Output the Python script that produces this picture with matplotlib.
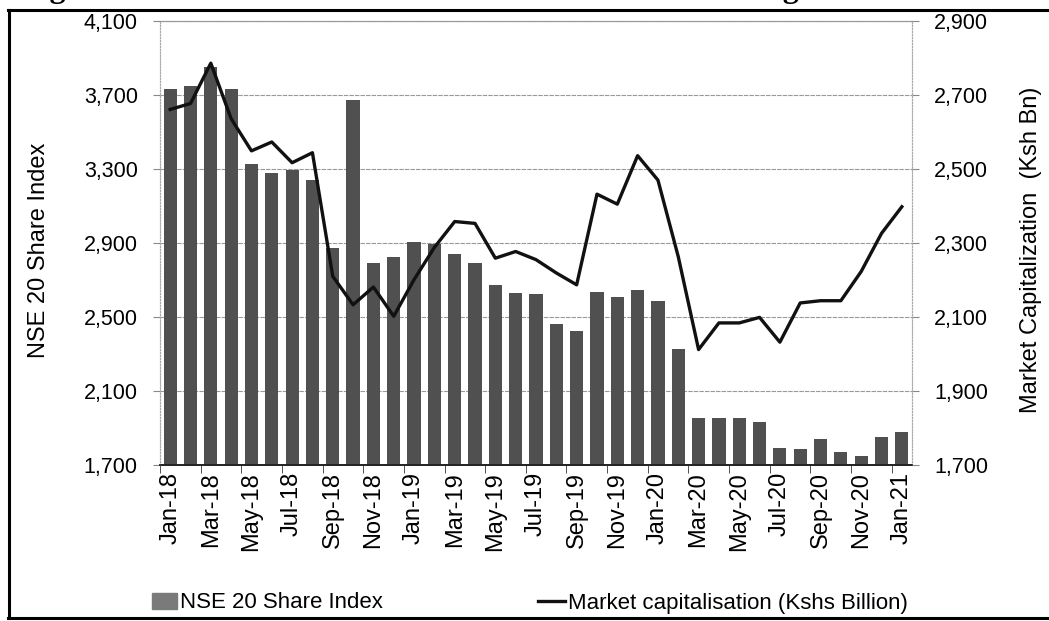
import matplotlib
matplotlib.use("Agg")
import matplotlib.pyplot as plt
import numpy as np
from matplotlib.lines import Line2D
from matplotlib.patches import Patch
from matplotlib.ticker import FuncFormatter, FixedLocator

plt.rcParams['font.family'] = ['Liberation Sans', 'DejaVu Sans']

# monthly data, Jan-18 .. Jan-21
months = ['Jan-18', 'Feb-18', 'Mar-18', 'Apr-18', 'May-18', 'Jun-18', 'Jul-18', 'Aug-18',
          'Sep-18', 'Oct-18', 'Nov-18', 'Dec-18', 'Jan-19', 'Feb-19', 'Mar-19', 'Apr-19',
          'May-19', 'Jun-19', 'Jul-19', 'Aug-19', 'Sep-19', 'Oct-19', 'Nov-19', 'Dec-19',
          'Jan-20', 'Feb-20', 'Mar-20', 'Apr-20', 'May-20', 'Jun-20', 'Jul-20', 'Aug-20',
          'Sep-20', 'Oct-20', 'Nov-20', 'Dec-20', 'Jan-21']
nse20 = [3732, 3747, 3852, 3733, 3327, 3281, 3296, 3238,
         2872, 3675, 2791, 2827, 2903, 2896, 2841, 2791,
         2672, 2629, 2624, 2461, 2423, 2634, 2609, 2645,
         2589, 2326, 1956, 1956, 1956, 1931, 1792, 1787,
         1841, 1772, 1747, 1851, 1877]
mcap = [2661, 2677, 2786, 2636, 2549, 2573, 2517, 2544,
        2210, 2133, 2181, 2102, 2201, 2288, 2358, 2353,
        2259, 2277, 2255, 2219, 2187, 2432, 2405, 2536,
        2470, 2263, 2012, 2084, 2084, 2099, 2032, 2138,
        2144, 2144, 2223, 2326, 2398]

x = np.arange(len(months))

fig = plt.figure(figsize=(10.49, 6.21), dpi=100)
ax = fig.add_axes([160/1049, 156/621, 752/1049, 444/621])
ax2 = ax.twinx()

ax.bar(x, nse20, width=0.65, color='#505050', zorder=2)
ax2.plot(x, mcap, color='#111111', lw=2.4, zorder=3)

ax.set_xlim(-0.5, len(months) - 0.5)
ax.set_ylim(1700, 4100)
ax2.set_ylim(1700, 2900)
ax.set_yticks(np.arange(1700, 4101, 400))
ax2.set_yticks(np.arange(1700, 2901, 200))
fmt = FuncFormatter(lambda v, p: '{:,.0f}'.format(v))
ax.yaxis.set_major_formatter(fmt)
ax2.yaxis.set_major_formatter(fmt)

ax.set_xticks(x[::2])
ax.set_xticklabels(months[::2], rotation=90, fontsize=17)
ax.tick_params(axis='x', length=0, pad=5)
ax.xaxis.set_minor_locator(FixedLocator(np.arange(-0.5, len(months), 2)))
ax.tick_params(axis='x', which='minor', length=6, color='#333333')
ax.tick_params(axis='y', labelsize=15.5, length=5, color='#888888', pad=11)
ax2.tick_params(axis='y', labelsize=15.5, length=5, color='#888888', pad=11)

ax.yaxis.grid(True, color='#999999', lw=0.8, ls=(0, (4, 1)), zorder=0)
ax.set_axisbelow(True)
for a in (ax, ax2):
    a.spines['left'].set_color('#aaaaaa')
    a.spines['left'].set_linestyle(':')
    a.spines['right'].set_color('#aaaaaa')
    a.spines['right'].set_linestyle(':')
    a.spines['top'].set_color('#999999')
    a.spines['bottom'].set_color('#222222')
    a.spines['bottom'].set_linewidth(1.2)

ax.set_ylabel('NSE 20 Share Index', fontsize=17)
ax.yaxis.set_label_coords(-0.146, 0.484)
ax2.set_ylabel('Market Capitalization  (Ksh Bn)', fontsize=17)
ax2.yaxis.set_label_coords(1.144, 0.484)

# legend
fig.legend(handles=[Patch(color='#7a7a7a')], labels=['NSE 20 Share Index'],
           loc='center left', bbox_to_anchor=(152/1049, 1 - 603/621), frameon=False,
           fontsize=16, handlelength=1.13, handletextpad=0.13, borderpad=0, borderaxespad=0)
fig.legend(handles=[Line2D([], [], color='#111111', lw=2.4)],
           labels=['Market capitalisation (Kshs Billion)'],
           loc='center left', bbox_to_anchor=(538/1049, 1 - 603/621), frameon=False,
           fontsize=16, handlelength=1.2, handletextpad=0.13, borderpad=0, borderaxespad=0)

# outer frame (cropped page)
for xs, ys in [((8, 1049), (10, 10)), ((9, 9), (10, 618)), ((8, 1049), (618, 618))]:
    fig.add_artist(Line2D([v/1049 for v in xs], [1 - v/621 for v in ys],
                          color='black', lw=2.2, transform=fig.transFigure))

# title of the page, cut off at the top
fig.text(0.02, 1 + 3/621, 'Figure 9: Performance of the Nairobi Securities Exchange',
         fontsize=23, fontweight='bold', family='Liberation Serif', va='baseline', ha='left')

fig.savefig('out.png', dpi=100)
